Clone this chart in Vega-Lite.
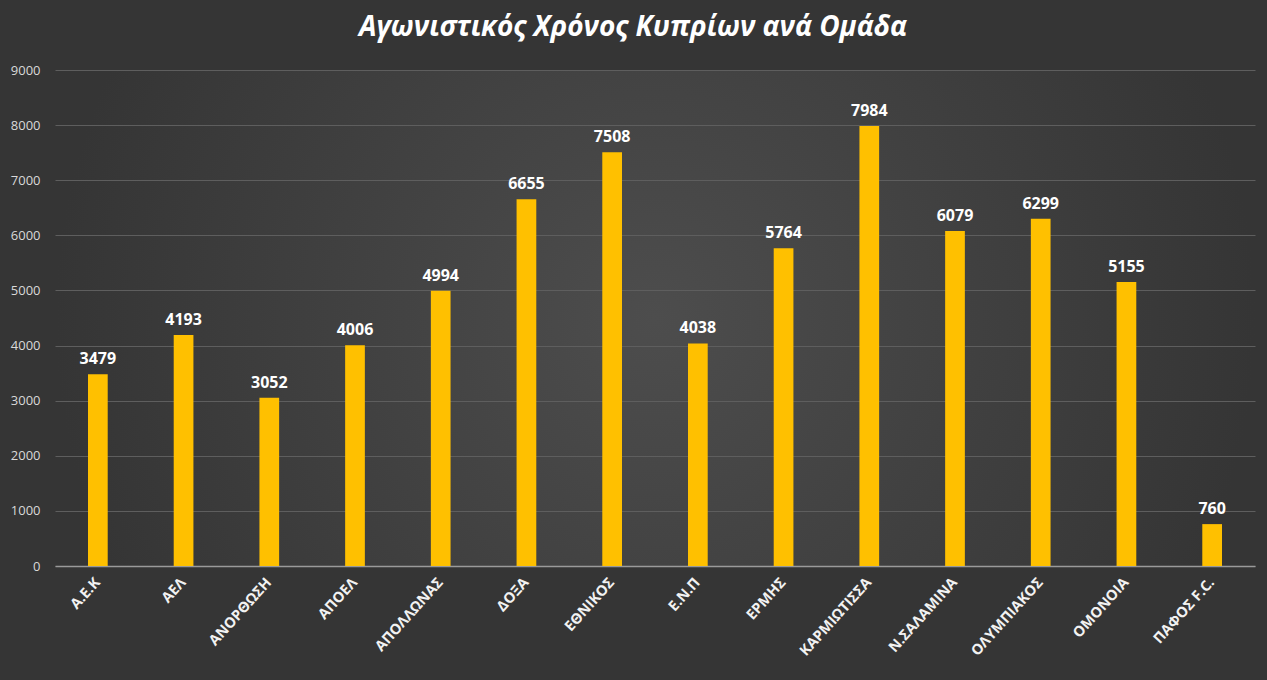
{
  "$schema": "https://vega.github.io/schema/vega-lite/v6.json",
  "width": 1200,
  "height": 496,
  "autosize": {"type": "none"},
  "padding": {"left": 55, "top": 70, "right": 12, "bottom": 114},
  "background": "#353535",
  "title": {
    "text": "Αγωνιστικός Χρόνος Κυπρίων ανά Ομάδα",
    "font": "Open Sans",
    "fontSize": 28,
    "fontStyle": "italic",
    "fontWeight": "bold",
    "color": "#ffffff",
    "anchor": "middle",
    "dx": -22,
    "offset": 22
  },
  "config": {
    "view": {
      "stroke": null,
      "fill": {
        "gradient": "radial",
        "x1": 0.5, "y1": 0.5, "r1": 0,
        "x2": 0.5, "y2": 0.5, "r2": 0.5,
        "stops": [
          {"offset": 0, "color": "#4d4d4d"},
          {"offset": 1, "color": "#353535"}
        ]
      }
    },
    "font": "Open Sans"
  },
  "data": {
    "values": [
      {"team": "Α.Ε.Κ", "minutes": 3479},
      {"team": "ΑΕΛ", "minutes": 4193},
      {"team": "ΑΝΟΡΘΩΣΗ", "minutes": 3052},
      {"team": "ΑΠΟΕΛ", "minutes": 4006},
      {"team": "ΑΠΟΛΛΩΝΑΣ", "minutes": 4994},
      {"team": "ΔΟΞΑ", "minutes": 6655},
      {"team": "ΕΘΝΙΚΟΣ", "minutes": 7508},
      {"team": "Ε.Ν.Π", "minutes": 4038},
      {"team": "ΕΡΜΗΣ", "minutes": 5764},
      {"team": "ΚΑΡΜΙΩΤΙΣΣΑ", "minutes": 7984},
      {"team": "Ν.ΣΑΛΑΜΙΝΑ", "minutes": 6079},
      {"team": "ΟΛΥΜΠΙΑΚΟΣ", "minutes": 6299},
      {"team": "ΟΜΟΝΟΙΑ", "minutes": 5155},
      {"team": "ΠΑΦΟΣ F.C.", "minutes": 760}
    ]
  },
  "encoding": {
    "x": {
      "field": "team",
      "type": "nominal",
      "sort": null,
      "title": null,
      "scale": {"paddingInner": 0.77, "paddingOuter": 0.385},
      "axis": {
        "labelAngle": -48,
        "labelAlign": "right",
        "labelBaseline": "middle",
        "labelFont": "Open Sans",
        "labelFontWeight": "bold",
        "labelFontSize": 14.5,
        "labelColor": "#f2f2f2",
        "labelPadding": 14,
        "labelOverlap": false,
        "ticks": false,
        "domainColor": "#9a9a9a",
        "domainWidth": 1.5,
        "grid": false
      }
    },
    "y": {
      "field": "minutes",
      "type": "quantitative",
      "title": null,
      "scale": {"domain": [0, 9000]},
      "axis": {
        "values": [0, 1000, 2000, 3000, 4000, 5000, 6000, 7000, 8000, 9000],
        "format": "d",
        "labelFont": "Open Sans",
        "labelFontSize": 13,
        "labelColor": "#d9d9d9",
        "labelPadding": 15,
        "ticks": false,
        "domain": false,
        "gridColor": "#5e5e5e",
        "gridWidth": 1
      }
    }
  },
  "layer": [
    {
      "mark": {"type": "bar", "color": "#ffc000"}
    },
    {
      "mark": {
        "type": "text",
        "baseline": "bottom",
        "dy": -7,
        "font": "Open Sans",
        "fontSize": 16,
        "fontWeight": "bold",
        "color": "#ffffff"
      },
      "encoding": {
        "text": {"field": "minutes", "type": "quantitative", "format": "d"}
      }
    }
  ]
}
